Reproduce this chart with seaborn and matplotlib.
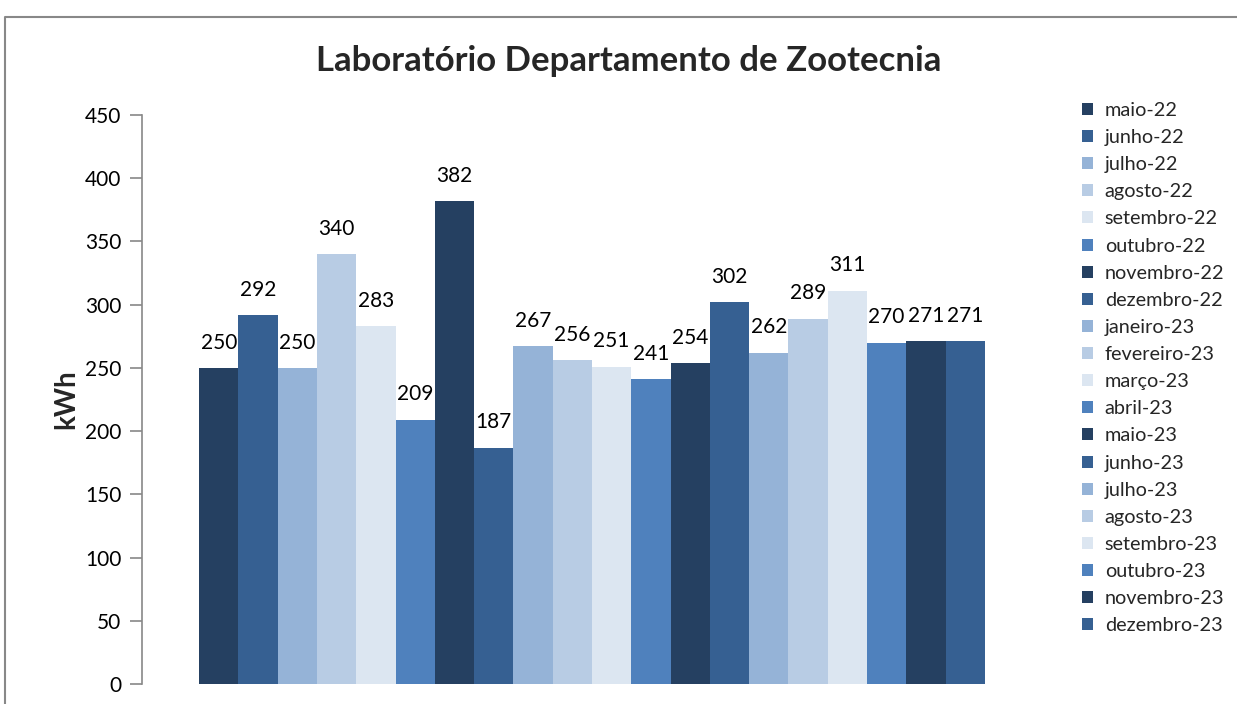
import matplotlib
matplotlib.use("Agg")
import matplotlib.pyplot as plt
import seaborn as sns
import pandas as pd
from matplotlib.lines import Line2D

months = ["maio-22", "junho-22", "julho-22", "agosto-22", "setembro-22", "outubro-22",
          "novembro-22", "dezembro-22", "janeiro-23", "fevereiro-23", "março-23", "abril-23",
          "maio-23", "junho-23", "julho-23", "agosto-23", "setembro-23", "outubro-23",
          "novembro-23", "dezembro-23"]
values = [250, 292, 250, 340, 283, 209, 382, 187, 267, 256, 251, 241,
          254, 302, 262, 289, 311, 270, 271, 271]
base_colors = ["#254061", "#366092", "#95B3D7", "#B8CCE4", "#DCE6F1", "#4F81BD"]
colors = [base_colors[i % 6] for i in range(len(months))]
title = "Laboratório Departamento de Zootecnia"
ylabel = "kWh"

sns.set_theme(style="white")
plt.rcParams['font.family'] = ['Lato', 'DejaVu Sans']

df = pd.DataFrame({"grupo": ["Laboratório"] * len(months), "mes": months, "kwh": values})

W, H = 1237, 704
fig = plt.figure(figsize=(W / 100, H / 100), dpi=100)
ax = fig.add_axes([142 / W, 1 - 684 / H, 900 / W, 569 / H])

sns.barplot(data=df, x="grupo", y="kwh", hue="mes", hue_order=months, palette=colors,
            width=0.873, gap=0, saturation=1, ax=ax, legend=True, linewidth=0)

ax.set_xlim(-0.5, 0.5)
ax.set_ylim(0, 450)
ax.set_yticks(range(0, 451, 50))
ax.tick_params(axis="y", labelsize=15, length=9, width=1.2, color="#888888",
               left=True, pad=6, labelcolor="black")
ax.set_xticks([])
ax.set_xlabel("")
ax.set_ylabel(ylabel, fontsize=20, fontweight="bold", labelpad=4)
for s in ["top", "right", "bottom"]:
    ax.spines[s].set_visible(False)
ax.spines["left"].set_color("#888888")
ax.spines["left"].set_linewidth(1.2)

for c in ax.containers:
    ax.bar_label(c, fontsize=15, padding=11, color="black")

handles, labels = ax.get_legend_handles_labels()
ax.get_legend().remove()
fig.legend(handles, labels, loc="upper left", bbox_to_anchor=(1074 / W, 1 - 94 / H),
           frameon=False, fontsize=14.3, handlelength=0.55, handleheight=0.55,
           handletextpad=0.6, labelspacing=0.51, borderaxespad=0)

fig.text(629 / W, 1 - 61 / H, title, ha="center", va="center", fontsize=25, fontweight="bold")

fig.add_artist(Line2D([4.5 / W, 4.5 / W, 1.01], [0, 1 - 16.5 / H, 1 - 16.5 / H],
                      transform=fig.transFigure, color="#888888", linewidth=1.5))

fig.savefig("out.png", dpi=100)
